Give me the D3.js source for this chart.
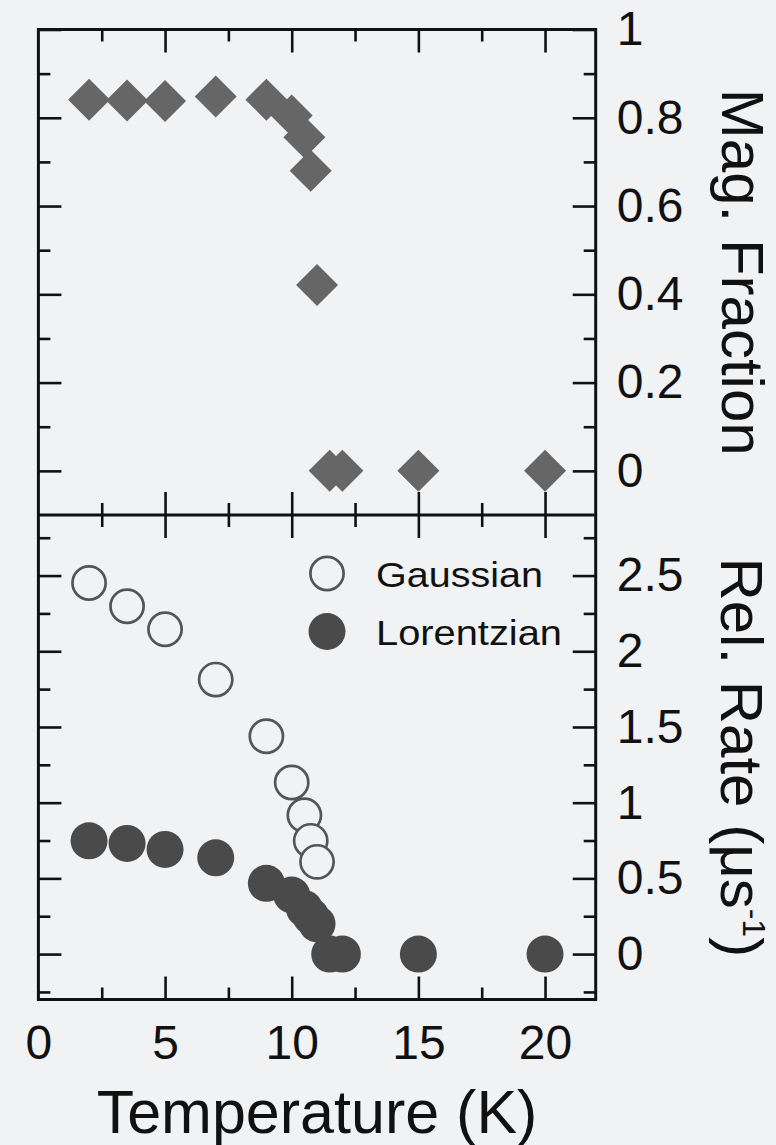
<!DOCTYPE html>
<html>
<head>
<meta charset="utf-8">
<script src="https://cdn.jsdelivr.net/npm/d3@7"></script>
<style>
  html, body { margin: 0; padding: 0; background: #f1f2f4; }
  svg { display: block; }
  text { font-family: "Liberation Sans", Arial, Helvetica, sans-serif; fill: #111; }
</style>
</head>
<body>
<svg id="chart" width="776" height="1145"></svg>
<script>
// Temperatures (K) at which each quantity was measured
const tempMag = [2, 3.5, 5, 7, 9, 10, 10.5, 10.75, 11, 11.5, 12, 15, 20];
const magFraction = [0.841, 0.839, 0.838, 0.848, 0.841, 0.805, 0.756, 0.68, 0.421, 0, 0, 0, 0];

const tempGauss = [2, 3.5, 5, 7, 9, 10, 10.5, 10.75, 11];
const gaussRate = [2.451, 2.297, 2.145, 1.813, 1.439, 1.133, 0.917, 0.748, 0.609];

const tempLor = [2, 3.5, 5, 7, 9, 10, 10.5, 10.75, 11, 11.5, 12, 15, 20];
const lorRate = [0.748, 0.731, 0.691, 0.636, 0.467, 0.39, 0.30, 0.25, 0.20, 0, 0, 0, 0];

// Tick values
const xMajor = [5, 10, 15, 20];
const xMinor = [2.5, 7.5, 12.5, 17.5];
const xLabels = [0, 5, 10, 15, 20];
const magMajor = [0, 0.2, 0.4, 0.6, 0.8, 1];
const magMinor = [0.1, 0.3, 0.5, 0.7, 0.9];
const rateMajor = [0, 0.5, 1, 1.5, 2, 2.5];
const rateMinor = [-0.25, 0.25, 0.75, 1.25, 1.75, 2.25, 2.75];

const legendNames = ["Gaussian", "Lorentzian"];

const svg = d3.select("#chart");
const left = 38.4, right = 595.7;
const topY = 29.5, midY = 515, botY = 999.5;

const x = d3.scaleLinear().domain([0, 22]).range([left, right]);
const yMag = d3.scaleLinear().domain([-0.1, 1]).range([midY, topY]);
const yRate = d3.scaleLinear().domain([-0.3, 2.9]).range([botY, midY]);

const MAJ = 23, MIN = 12;
const INK = "#111";

function styleAxis(g, showText) {
  g.select(".domain").remove();
  g.selectAll(".tick line").attr("stroke", INK).attr("stroke-width", 2.6);
  if (!showText) g.selectAll(".tick text").remove();
}

// ---- ticks on each edge, pointing inward ----
function xTicks(yPos, orientBottom) {
  // ticks on a horizontal edge; orientBottom true => ticks point upward
  const mk = orientBottom ? d3.axisBottom : d3.axisTop;
  svg.append("g").attr("transform", `translate(0,${yPos})`)
    .call(mk(x).tickValues(xMajor).tickSize(-MAJ).tickFormat(""))
    .call(g => styleAxis(g, false));
  svg.append("g").attr("transform", `translate(0,${yPos})`)
    .call(mk(x).tickValues(xMinor).tickSize(-MIN).tickFormat(""))
    .call(g => styleAxis(g, false));
}

function yTicks(scale, major, minor, fmt) {
  // left edge: ticks pointing right
  svg.append("g").attr("transform", `translate(${left},0)`)
    .call(d3.axisLeft(scale).tickValues(major).tickSize(-MAJ).tickFormat(""))
    .call(g => styleAxis(g, false));
  svg.append("g").attr("transform", `translate(${left},0)`)
    .call(d3.axisLeft(scale).tickValues(minor).tickSize(-MIN).tickFormat(""))
    .call(g => styleAxis(g, false));
  // right edge: ticks pointing left, with labels outside
  svg.append("g").attr("transform", `translate(${right},0)`)
    .call(d3.axisRight(scale).tickValues(major).tickSize(-MAJ).tickPadding(21).tickFormat(fmt))
    .call(g => {
      styleAxis(g, true);
      g.selectAll(".tick text")
        .attr("font-size", 48)
        .attr("font-family", '"Liberation Sans", Arial, sans-serif')
        .attr("fill", INK);
    });
  svg.append("g").attr("transform", `translate(${right},0)`)
    .call(d3.axisRight(scale).tickValues(minor).tickSize(-MIN).tickFormat(""))
    .call(g => styleAxis(g, false));
}

// top panel
xTicks(topY, false);
xTicks(midY, true);
yTicks(yMag, magMajor, magMinor, d => d3.format("~g")(d));
// bottom panel
xTicks(midY, false);
xTicks(botY, true);
yTicks(yRate, rateMajor, rateMinor, d => d3.format("~g")(d));

// frames
const frame = svg.append("g").attr("fill", "none").attr("stroke", INK).attr("stroke-width", 3);
frame.append("rect").attr("x", left).attr("y", topY).attr("width", right - left).attr("height", botY - topY);
frame.append("line").attr("x1", left).attr("x2", right).attr("y1", midY).attr("y2", midY);

// bottom x labels
svg.append("g").attr("transform", `translate(0,${botY})`)
  .call(d3.axisBottom(x).tickValues(xLabels).tickSize(0).tickPadding(59))
  .call(g => {
    g.select(".domain").remove();
    g.selectAll(".tick text")
      .attr("font-size", 48)
      .attr("font-family", '"Liberation Sans", Arial, sans-serif')
      .attr("fill", INK)
      .attr("dy", 0);
  });

// ---- data marks ----
const magData = tempMag.map((t, i) => ({ t, v: magFraction[i] }));
svg.append("g").selectAll("path").data(magData).join("path")
  .attr("d", d3.symbol().type(d3.symbolSquare).size(882))
  .attr("transform", d => `translate(${x(d.t)},${yMag(d.v)}) rotate(45)`)
  .attr("fill", "#666666");

const gaussData = tempGauss.map((t, i) => ({ t, v: gaussRate[i] }));
const lorData = tempLor.map((t, i) => ({ t, v: lorRate[i] }));

svg.append("g").selectAll("circle").data(gaussData).join("circle")
  .attr("cx", d => x(d.t)).attr("cy", d => yRate(d.v)).attr("r", 16.6)
  .attr("fill", "#f1f2f4").attr("stroke", "#555555").attr("stroke-width", 2.7);

svg.append("g").selectAll("circle").data(lorData).join("circle")
  .attr("cx", d => x(d.t)).attr("cy", d => yRate(d.v)).attr("r", 18.5)
  .attr("fill", "#4a4a4a");

// legend
const legend = svg.append("g");
const legY = [573.5, 631.5];
legend.append("circle").attr("cx", 327).attr("cy", legY[0]).attr("r", 16.6)
  .attr("fill", "#f1f2f4").attr("stroke", "#555555").attr("stroke-width", 2.7);
legend.append("circle").attr("cx", 327).attr("cy", legY[1]).attr("r", 18.5)
  .attr("fill", "#4a4a4a");
legend.selectAll("text").data(legendNames).join("text")
  .attr("x", 376).attr("y", (d, i) => legY[i] + 13)
  .attr("font-size", 35)
  .attr("textLength", (d, i) => [167, 186][i])
  .attr("lengthAdjust", "spacingAndGlyphs")
  .text(d => d);

// axis titles
svg.append("text")
  .attr("transform", `translate(721.5,${(topY + midY) / 2}) rotate(90)`)
  .attr("text-anchor", "middle").attr("font-size", 60)
  .text("Mag. Fraction");

const rel = svg.append("text")
  .attr("transform", `translate(721,${(midY + botY) / 2}) rotate(90)`)
  .attr("text-anchor", "middle").attr("font-size", 60);
rel.append("tspan").text("Rel. Rate (\u03BCs");
rel.append("tspan").attr("font-size", 32).attr("dy", -22).text("-1");
rel.append("tspan").attr("dy", 22).text(")");

svg.append("text")
  .attr("x", (left + right) / 2).attr("y", 1133)
  .attr("text-anchor", "middle").attr("font-size", 61)
  .text("Temperature (K)");
</script>
</body>
</html>
